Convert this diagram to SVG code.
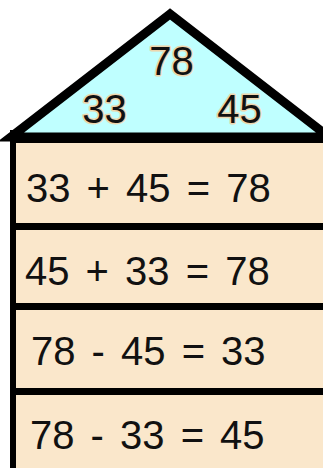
<svg xmlns="http://www.w3.org/2000/svg" width="323" height="468" viewBox="0 0 323 468">
<style>
.row{fill:#FAE7CB}
.sep{fill:#000}
.t{font-family:"Liberation Sans",Arial,sans-serif;font-size:40px;fill:#111;word-spacing:5px}
.halo{stroke:#EED6AE;stroke-width:3px;paint-order:stroke;stroke-linejoin:round}
</style>
<rect width="323" height="468" fill="#fff"/>
<g id="roof">
<polygon points="170,14 11,137 329,137" fill="#BFFFFF" stroke="#000" stroke-width="9" stroke-linejoin="miter"/>
<text class="t halo" x="171.5" y="75" text-anchor="middle">78</text>
<text class="t halo" x="104.5" y="123" text-anchor="middle">33</text>
<text class="t halo" x="239.5" y="123" text-anchor="middle">45</text>
</g>
<g id="row1">
<rect class="row" x="13" y="141" width="310" height="83"/>
<text class="t" x="26" y="202">33 + 45 = 78</text>
</g>
<g id="row2">
<rect class="row" x="13" y="230" width="310" height="74"/>
<text class="t" x="25" y="285">45 + 33 = 78</text>
</g>
<g id="row3">
<rect class="row" x="13" y="310" width="310" height="79"/>
<text class="t" x="31" y="365">78 - 45 = 33</text>
</g>
<g id="row4">
<rect class="row" x="13" y="395" width="310" height="73"/>
<text class="t" x="30" y="449">78 - 33 = 45</text>
</g>
<g id="lines">
<rect class="sep" x="10" y="133" width="313" height="10"/>
<rect class="sep" x="10" y="130" width="6" height="338"/>
<rect class="sep" x="10" y="223" width="313" height="7"/>
<rect class="sep" x="10" y="303" width="313" height="7"/>
<rect class="sep" x="10" y="388" width="313" height="7"/>
</g>
</svg>
